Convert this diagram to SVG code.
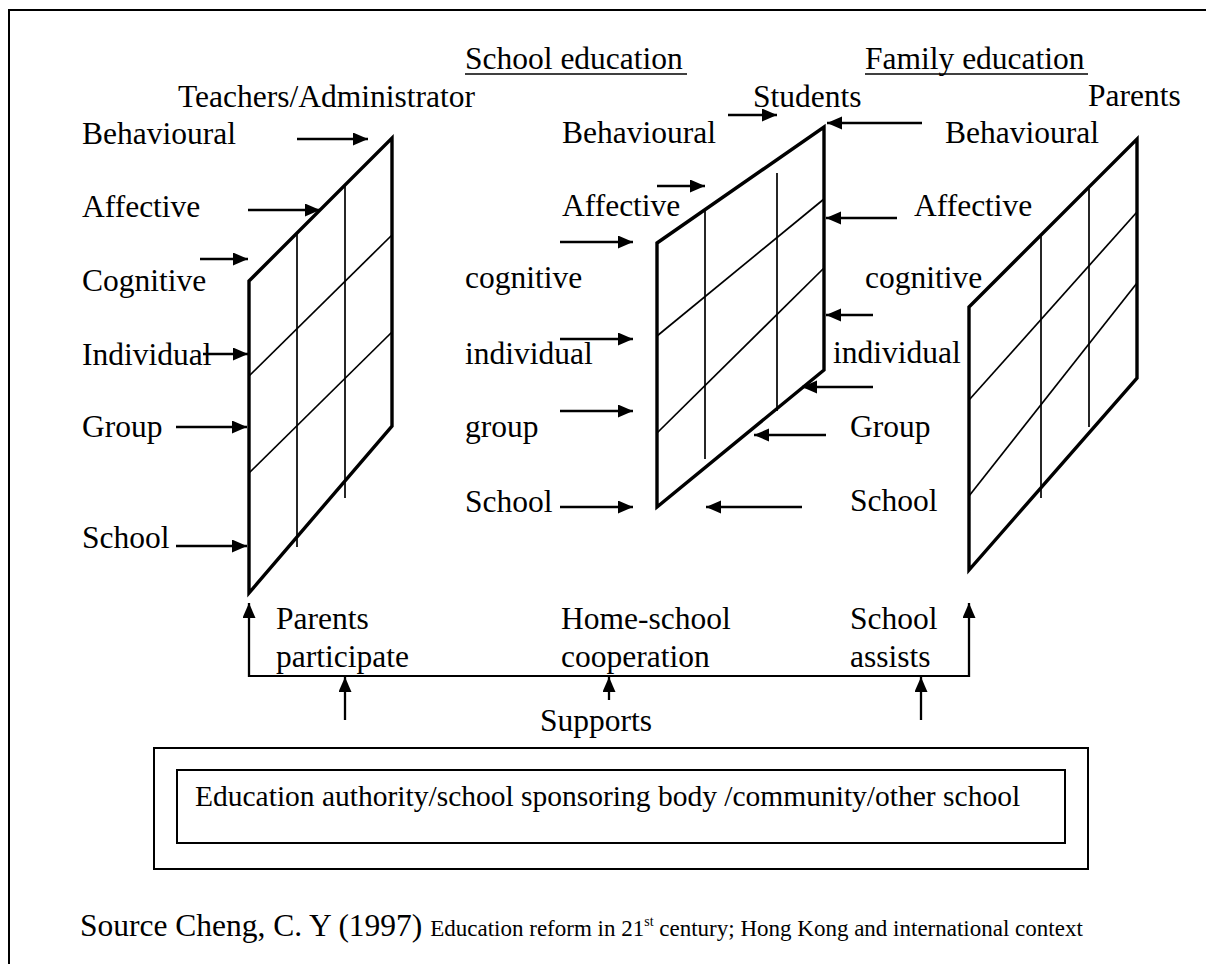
<svg xmlns="http://www.w3.org/2000/svg" width="1206" height="964" viewBox="0 0 1206 964">
<defs>
<marker id="ah" markerUnits="userSpaceOnUse" markerWidth="16" markerHeight="14" refX="15" refY="6.5" orient="auto">
<path d="M0,0 L15,6.5 L0,13 Z" fill="#000"/>
</marker>
<style>
.t{font-family:"Liberation Serif","Times New Roman",serif;font-size:31.5px;fill:#000}
.s{font-family:"Liberation Serif","Times New Roman",serif;fill:#000}
.edge{fill:none;stroke:#000;stroke-width:3.4;stroke-linejoin:miter}
.in{stroke:#000;stroke-width:1.7;fill:none}
.arr{stroke:#000;stroke-width:2.3;fill:none;marker-end:url(#ah)}
.ln{stroke:#000;stroke-width:2;fill:none}
.box{fill:none;stroke:#000;stroke-width:2}
</style>
</defs>
<rect width="1206" height="964" fill="#fff"/>
<path class="ln" d="M9,964 L9,10 L1206,10"/>

<g id="headers">
<text class="t" x="465" y="69">School education</text>
<line class="ln" x1="465" y1="74" x2="687" y2="74" style="stroke-width:1.6"/>
<text class="t" x="865" y="69">Family education</text>
<line class="ln" x1="865" y1="74" x2="1088" y2="74" style="stroke-width:1.6"/>
</g>

<g id="node-teachers">
<text class="t" x="178" y="107">Teachers/Administrator</text>
<path class="edge" d="M249,281 L392,138 L392,426 L249,593 Z"/>
<line class="in" x1="297" y1="233" x2="297" y2="547"/>
<line class="in" x1="345" y1="185" x2="345" y2="498"/>
<line class="in" x1="392" y1="235" x2="249" y2="376"/>
<line class="in" x1="392" y1="332" x2="249" y2="473"/>
<text class="t" x="82" y="144">Behavioural</text>
<text class="t" x="82" y="217">Affective</text>
<text class="t" x="82" y="291">Cognitive</text>
<text class="t" x="82" y="365">Individual</text>
<text class="t" x="82" y="437">Group</text>
<text class="t" x="82" y="548">School</text>
</g>

<g id="node-students">
<text class="t" x="753" y="107">Students</text>
<path class="edge" d="M657,243 L824,127 L824,370 L657,507 Z"/>
<line class="in" x1="705" y1="210" x2="705" y2="459"/>
<line class="in" x1="777" y1="173" x2="777" y2="411"/>
<line class="in" x1="824" y1="199" x2="657" y2="336"/>
<line class="in" x1="824" y1="268" x2="657" y2="433"/>
<text class="t" x="562" y="143">Behavioural</text>
<text class="t" x="562" y="216">Affective</text>
<text class="t" x="465" y="288">cognitive</text>
<text class="t" x="465" y="364">individual</text>
<text class="t" x="465" y="437">group</text>
<text class="t" x="465" y="512">School</text>
</g>

<g id="node-parents">
<text class="t" x="1088" y="106">Parents</text>
<path class="edge" d="M969,307 L1137,139 L1137,378 L969,570 Z"/>
<line class="in" x1="1041" y1="235" x2="1041" y2="498"/>
<line class="in" x1="1089" y1="186" x2="1089" y2="427"/>
<line class="in" x1="1137" y1="212" x2="969" y2="400"/>
<line class="in" x1="1137" y1="283" x2="969" y2="496"/>
<text class="t" x="945" y="143">Behavioural</text>
<text class="t" x="914" y="216">Affective</text>
<text class="t" x="865" y="288">cognitive</text>
<text class="t" x="833" y="363">individual</text>
<text class="t" x="850" y="437">Group</text>
<text class="t" x="850" y="511">School</text>
</g>

<g id="node-cooperation">
<text class="t" x="276" y="629">Parents</text>
<text class="t" x="276" y="667">participate</text>
<text class="t" x="561" y="629">Home-school</text>
<text class="t" x="561" y="667">cooperation</text>
<text class="t" x="850" y="629">School</text>
<text class="t" x="850" y="667">assists</text>
<text class="t" x="540" y="731">Supports</text>
</g>

<g id="node-support">
<rect class="box" x="154" y="748" width="934" height="121"/>
<rect class="box" x="177" y="770" width="888" height="73"/>
<text class="s" x="195" y="806" style="font-size:29.5px">Education authority/school sponsoring body /community/other school</text>
</g>

<g id="connectors">
<line class="arr" x1="297" y1="139" x2="368" y2="139"/>
<line class="arr" x1="248" y1="210" x2="320" y2="210"/>
<line class="arr" x1="200" y1="259" x2="248" y2="259"/>
<line class="arr" x1="203" y1="354" x2="248" y2="354"/>
<line class="arr" x1="176" y1="427" x2="247" y2="427"/>
<line class="arr" x1="176" y1="546" x2="247" y2="546"/>

<line class="arr" x1="728" y1="115" x2="777" y2="115"/>
<line class="arr" x1="657" y1="186" x2="705" y2="186"/>
<line class="arr" x1="560" y1="242" x2="633" y2="242"/>
<line class="arr" x1="560" y1="339" x2="633" y2="339"/>
<line class="arr" x1="560" y1="411" x2="633" y2="411"/>
<line class="arr" x1="560" y1="507" x2="633" y2="507"/>

<line class="arr" x1="922" y1="123" x2="827" y2="123"/>
<line class="arr" x1="897" y1="218" x2="826" y2="218"/>
<line class="arr" x1="873" y1="315" x2="826" y2="315"/>
<line class="arr" x1="873" y1="387" x2="802" y2="387"/>
<line class="arr" x1="826" y1="435" x2="754" y2="435"/>
<line class="arr" x1="802" y1="507" x2="706" y2="507"/>

<path class="ln" d="M249,676 L969,676"/>
<line class="arr" x1="249" y1="677" x2="249" y2="603"/>
<line class="arr" x1="969" y1="677" x2="969" y2="603"/>
<line class="arr" x1="345" y1="720" x2="345" y2="677"/>
<line class="arr" x1="609" y1="700" x2="609" y2="677"/>
<line class="arr" x1="921" y1="720" x2="921" y2="677"/>
</g>

<g id="source">
<text class="s" x="80" y="936" style="font-size:31.5px">Source Cheng, C. Y (1997) <tspan style="font-size:23px">Education reform in 21<tspan style="font-size:14px" dy="-10">st</tspan><tspan dy="10"> century; Hong Kong and international context</tspan></tspan></text>
</g>
</svg>
